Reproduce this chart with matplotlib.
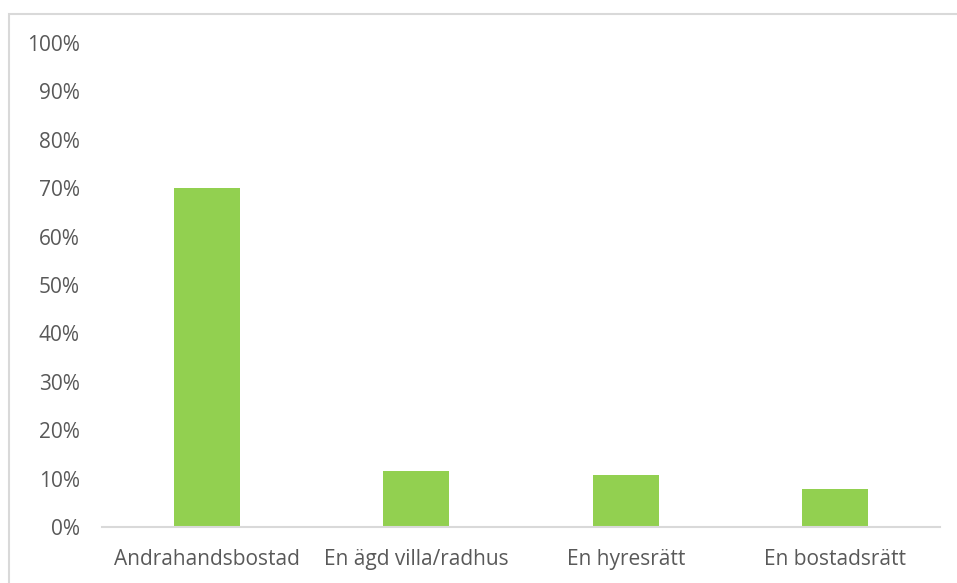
import matplotlib
matplotlib.use('Agg')
import matplotlib.pyplot as plt
from matplotlib.patches import Rectangle
from matplotlib.ticker import PercentFormatter

categories = ["Andrahandsbostad", "En ägd villa/radhus", "En hyresrätt", "En bostadsrätt"]
shares = [70.0, 11.5, 10.7, 7.8]
yticks = [0, 10, 20, 30, 40, 50, 60, 70, 80, 90, 100]

W, H = 957, 583
plt.rcParams['font.family'] = ['Open Sans', 'DejaVu Sans']

fig = plt.figure(figsize=(W / 100, H / 100), dpi=100)

# outer chart frame (runs off the right and bottom edge)
fig.patches.append(Rectangle((8.5 / W, -0.1), 1.2, 1 - 13.5 / H + 0.1,
                             transform=fig.transFigure, fill=False,
                             edgecolor='#d9d9d9', linewidth=1.5))

ax = fig.add_axes([102 / W, 1 - 527 / H, (940 - 102) / W, (527 - 43) / H])
x = range(len(categories))
ax.bar(x, shares, width=0.315, color='#92d050')

ax.set_xlim(-0.5, len(categories) - 0.5)
ax.set_ylim(0, 100)
ax.set_yticks(yticks)
ax.yaxis.set_major_formatter(PercentFormatter(decimals=0))
ax.set_xticks(list(x))
ax.set_xticklabels(categories)

for side in ('top', 'right', 'left'):
    ax.spines[side].set_visible(False)
ax.spines['bottom'].set_color('#d9d9d9')
ax.spines['bottom'].set_linewidth(1.5)
ax.tick_params(axis='both', length=0, labelsize=15, colors='#595959')
ax.tick_params(axis='y', pad=16)
ax.tick_params(axis='x', pad=16)

fig.savefig("out.png", dpi=100)
plt.close(fig)
